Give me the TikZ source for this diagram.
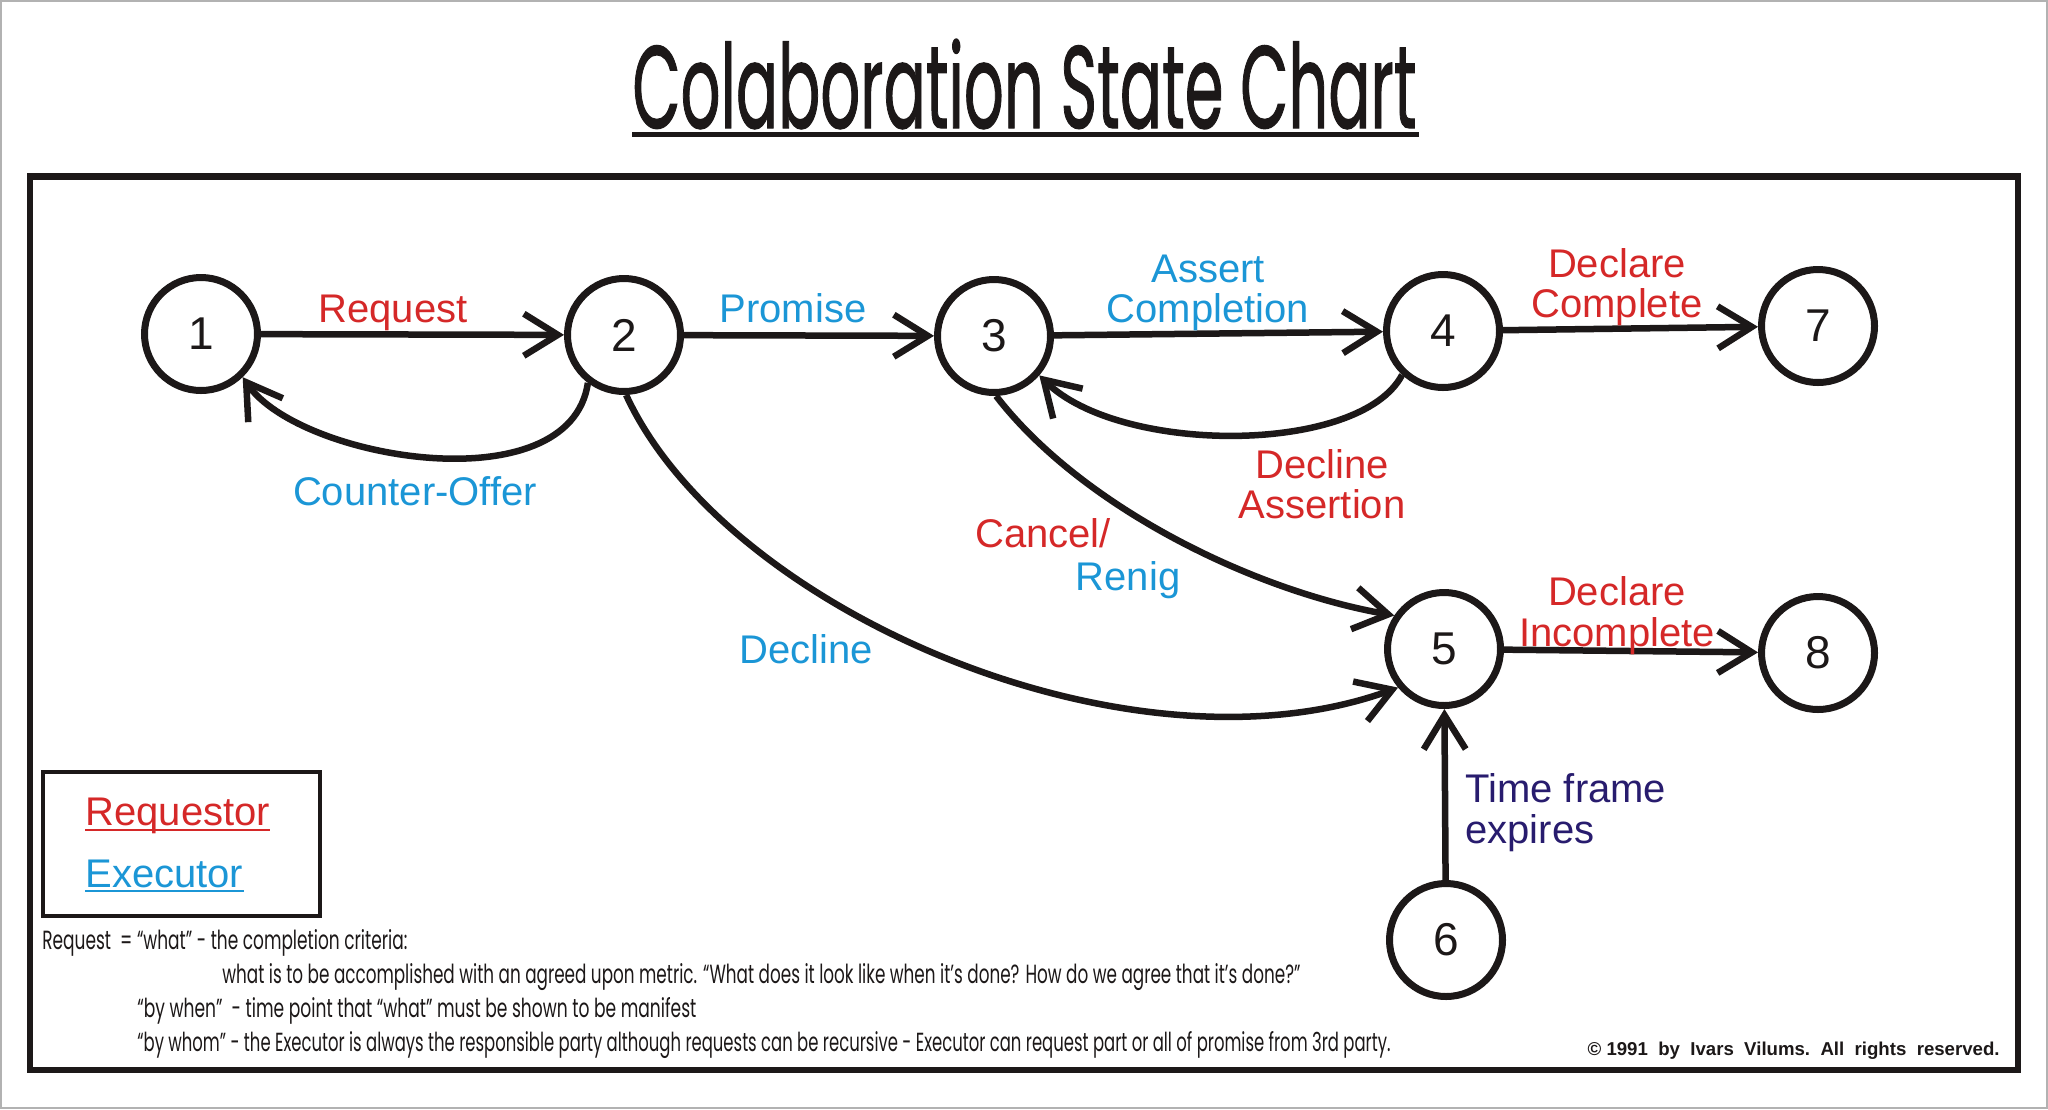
\documentclass[tikz,border=0pt]{standalone}
\usepackage{fontspec}
\setmainfont{Liberation Sans}
\newfontfamily\titlefont[FakeBold=1.2]{Poppins}
\newfontfamily\notefont{Poppins}
\usetikzlibrary{arrows.meta,calc}
\definecolor{redc}{RGB}{213,40,40}
\definecolor{bluec}{RGB}{27,150,214}
\definecolor{navyc}{RGB}{40,28,110}
\definecolor{inkc}{RGB}{28,24,24}
\newcommand\twoline[3][c]{\begin{tabular}[t]{@{}#1@{}}#2\\#3\end{tabular}}
\begin{document}
\begin{tikzpicture}[x=0.5pt,y=-0.5pt,
  state/.style={circle,draw=inkc,line width=3.5pt,minimum size=56.5pt,inner sep=0pt,font=\fontsize{23}{23}\selectfont,text=inkc},
  edge/.style={draw=inkc,line width=3.25pt,-{Straight Barb[length=17pt,width=21pt]}},
  lbl/.style={anchor=base,inner sep=0pt,font=\fontsize{20}{20}\selectfont},
  note/.style={anchor=base west,inner sep=0pt,text=inkc}]
\useasboundingbox (0,0) rectangle (2048,1109);
\fill[white] (0,0) rectangle (2048,1109);
\draw[gray!60,line width=1pt] (1,1) rectangle (2047,1108);
\draw[inkc,line width=3.25pt] (30,176.5) rectangle (2018,1070);

% title
\node[anchor=base west,inner sep=0pt,text=inkc] (title) at (632,128)
  {\resizebox{392pt}{44.5pt}{\titlefont Colaboration State Chart}};
\draw[inkc,line width=2.5pt] ($(title.base west)+(0,6.5)$) -- ($(title.base east)+(2,6.5)$);

% states
\node[state] (n1) at (201,334) {1};
\node[state] (n2) at (624,335) {2};
\node[state] (n3) at (994,336) {3};
\node[state] (n4) at (1443,331) {4};
\node[state] (n7) at (1818,326) {7};
\node[state] (n5) at (1444,649) {5};
\node[state] (n8) at (1818,653) {8};
\node[state] (n6) at (1446,940) {6};

% transitions
\draw[edge] (n1) -- (n2);
\draw[edge] (n2) -- (n3);
\draw[edge] (n3) -- (n4);
\draw[edge] (n4) -- (n7);
\draw[edge] (n5) -- (n8);
\draw[edge] (n6) -- (n5);
\draw[edge] (n2.233) .. controls (570,505) and (300,460) .. (n1.314);
\draw[edge] (n4.227) .. controls (1360,455) and (1120,455) .. (n3.319);
\draw[edge] (n3.272) .. controls (1080,505) and (1250,590) .. (n5.146);
\draw[edge] (n2.272) .. controls (725,610) and (1130,785) .. (n5.220);

% labels
\node[lbl,text=redc] (lrequest) at (393,322) {Request};
\node[lbl,text=bluec] (lpromise) at (793,322) {Promise};
\node[lbl,text=bluec] (lassert) at (1208,282) {\twoline{Assert}{Completion}};
\node[lbl,text=redc] (ldeclc) at (1617,277) {\twoline{Declare}{Complete}};
\node[lbl,text=bluec] (lcounter) at (415,505) {Counter-Offer};
\node[lbl,text=redc] (ldeclass) at (1322,478) {\twoline{Decline}{Assertion}};
\node[lbl,text=redc] (lcancel) at (1043,547) {Cancel/};
\node[lbl,text=bluec] (lrenig) at (1128,590) {Renig};
\node[lbl,text=bluec] (ldecline) at (806,663) {Decline};
\node[lbl,text=redc] (ldecli) at (1617,605) {\twoline{Declare}{Incomplete}};
\node[lbl,anchor=base west,text=navyc] (ltime) at (1465,802) {\twoline[l]{Time frame}{expires}};

% legend
\node[draw=inkc,line width=1.6pt,minimum width=138.5pt,minimum height=72pt,inner sep=0pt] (legend) at (181.5,844) {};
\node[lbl,anchor=base west,text=redc] (lreq) at (85,825) {Requestor};
\draw[redc,line width=1pt] ($(lreq.base west)+(0,5)$) -- ($(lreq.base east)+(0,5)$);
\node[lbl,anchor=base west,text=bluec] (lexe) at (85,887) {Executor};
\draw[bluec,line width=1pt] ($(lexe.base west)+(0,4)$) -- ($(lexe.base east)+(0,4)$);

% notes
\node[note] (f1) at (42,949) {\resizebox{182.5pt}{10pt}{\notefont Request\ \ = “what” - the completion criteria:}};
\node[note] (f2) at (222,983) {\resizebox{539pt}{10pt}{\notefont what is to be accomplished with an agreed upon metric. “What does it look like when it’s done? How do we agree that it’s done?”}};
\node[note] (f3) at (137,1017) {\resizebox{279.5pt}{10pt}{\notefont “by when”\ \ - time point that “what” must be shown to be manifest}};
\node[note] (f4) at (137,1051) {\resizebox{626.5pt}{10pt}{\notefont “by whom” - the Executor is always the responsible party although requests can be recursive - Executor can request part or all of promise from 3rd party.}};

% copyright
\node[note,anchor=base east] (copy) at (2000,1055) {\resizebox{206pt}{!}{\bfseries\textcopyright\ 1991\ \ by\ \ Ivars\ \ Vilums.\ \ All\ \ rights\ \ reserved.}};
\end{tikzpicture}
\end{document}
